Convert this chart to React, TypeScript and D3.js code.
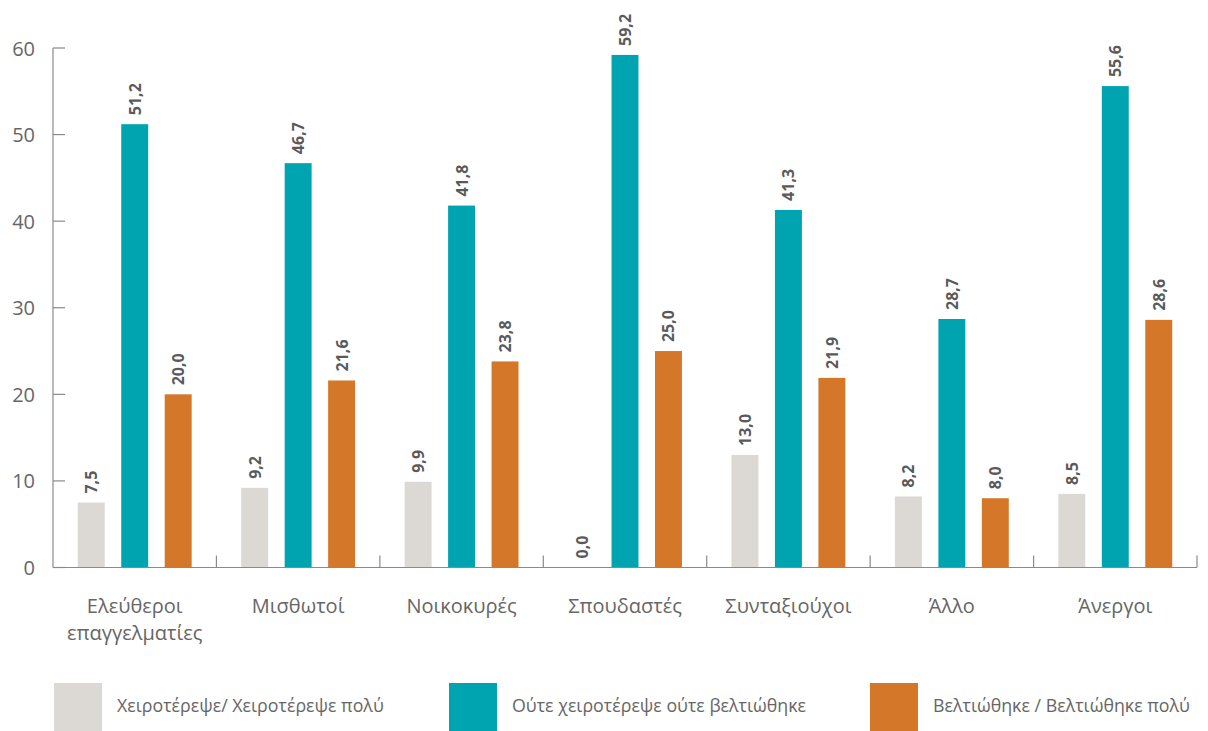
import React from "react";
import * as d3 from "d3";

const categories: string[][] = [
  ["Ελεύθεροι", "επαγγελματίες"],
  ["Μισθωτοί"],
  ["Νοικοκυρές"],
  ["Σπουδαστές"],
  ["Συνταξιούχοι"],
  ["Άλλο"],
  ["Άνεργοι"],
];
const seriesNames = [
  "Χειροτέρεψε/ Χειροτέρεψε πολύ",
  "Ούτε χειροτέρεψε ούτε βελτιώθηκε",
  "Βελτιώθηκε / Βελτιώθηκε πολύ",
];
const worse = [7.5, 9.2, 9.9, 0.0, 13.0, 8.2, 8.5];
const same = [51.2, 46.7, 41.8, 59.2, 41.3, 28.7, 55.6];
const better = [20.0, 21.6, 23.8, 25.0, 21.9, 8.0, 28.6];
const yTicks = [0, 10, 20, 30, 40, 50, 60];
const colors = ["#DCD8D4", "#00A4B0", "#D57728"];

const W = 1208;
const H = 731;
const left = 53;
const right = 1197;
const y0 = 567.5;
const yTop = 48;
const FONT = "'Open Sans', 'DejaVu Sans', sans-serif";
const TEXT = "#666";
const AXIS = "#8a8a8a";

export default function App() {
  const series = [worse, same, better];
  const idx = categories.map((_, i) => String(i));
  const x0 = d3.scaleBand<string>().domain(idx).range([left, right]).padding(0);
  const x1 = d3
    .scaleBand<string>()
    .domain(["0", "1", "2"])
    .range([0, x0.bandwidth()])
    .paddingInner(0.38)
    .paddingOuter(0.57);
  const y = d3.scaleLinear().domain([0, 60]).range([y0, yTop]);
  const fmt = (v: number) => v.toFixed(1).replace(".", ",");
  const legendX = [54, 449, 870];

  return (
    <svg
      width={W}
      height={H}
      style={{ position: "absolute", left: 0, top: 0, display: "block" }}
      fontFamily={FONT}
    >
      {/* y axis */}
      <line x1={left} x2={left} y1={yTop} y2={y0} stroke={AXIS} strokeWidth={1.2} />
      {yTicks.map((t) => (
        <g key={t}>
          <line x1={left} x2={left + 12} y1={y(t)} y2={y(t)} stroke={AXIS} strokeWidth={1.2} />
          <text
            x={35}
            y={y(t)}
            textAnchor="end"
            dominantBaseline="central"
            fontSize={20}
            fill={TEXT}
          >
            {t}
          </text>
        </g>
      ))}
      {/* bars */}
      {idx.map((c, i) => (
        <g key={c} transform={`translate(${x0(c)},0)`}>
          {series.map((s, k) => {
            const bx = x1(String(k))!;
            const bw = x1.bandwidth();
            const v = s[i];
            const top = y(v);
            return (
              <g key={k}>
                <rect x={bx} y={top} width={bw} height={y0 - top} fill={colors[k]} />
                <text
                  transform={`translate(${bx + bw / 2},${top - 9}) rotate(-90)`}
                  textAnchor="start"
                  dominantBaseline="central"
                  fontSize={16}
                  fontWeight={700}
                  fill="#5a5a5a"
                >
                  {fmt(v)}
                </text>
              </g>
            );
          })}
        </g>
      ))}
      {/* x axis */}
      <line x1={left} x2={right} y1={y0} y2={y0} stroke={AXIS} strokeWidth={1.2} />
      {idx.map((c) => (
        <line
          key={c}
          x1={x0(c)! + x0.bandwidth()}
          x2={x0(c)! + x0.bandwidth()}
          y1={y0 - 12}
          y2={y0}
          stroke={AXIS}
          strokeWidth={1.2}
        />
      ))}
      {categories.map((lines, i) => (
        <text
          key={i}
          x={x0(String(i))! + x0.bandwidth() / 2}
          y={613}
          textAnchor="middle"
          fontSize={20}
          fill={TEXT}
        >
          {lines.map((l, j) => (
            <tspan key={j} x={x0(String(i))! + x0.bandwidth() / 2} dy={j === 0 ? 0 : 27}>
              {l}
            </tspan>
          ))}
        </text>
      ))}
      {/* legend */}
      {seriesNames.map((n, k) => (
        <g key={n}>
          <rect x={legendX[k]} y={683} width={48} height={48} fill={colors[k]} />
          <text
            x={legendX[k] + 63}
            y={705}
            dominantBaseline="central"
            fontSize={17.8}
            fill={TEXT}
          >
            {n}
          </text>
        </g>
      ))}
    </svg>
  );
}
